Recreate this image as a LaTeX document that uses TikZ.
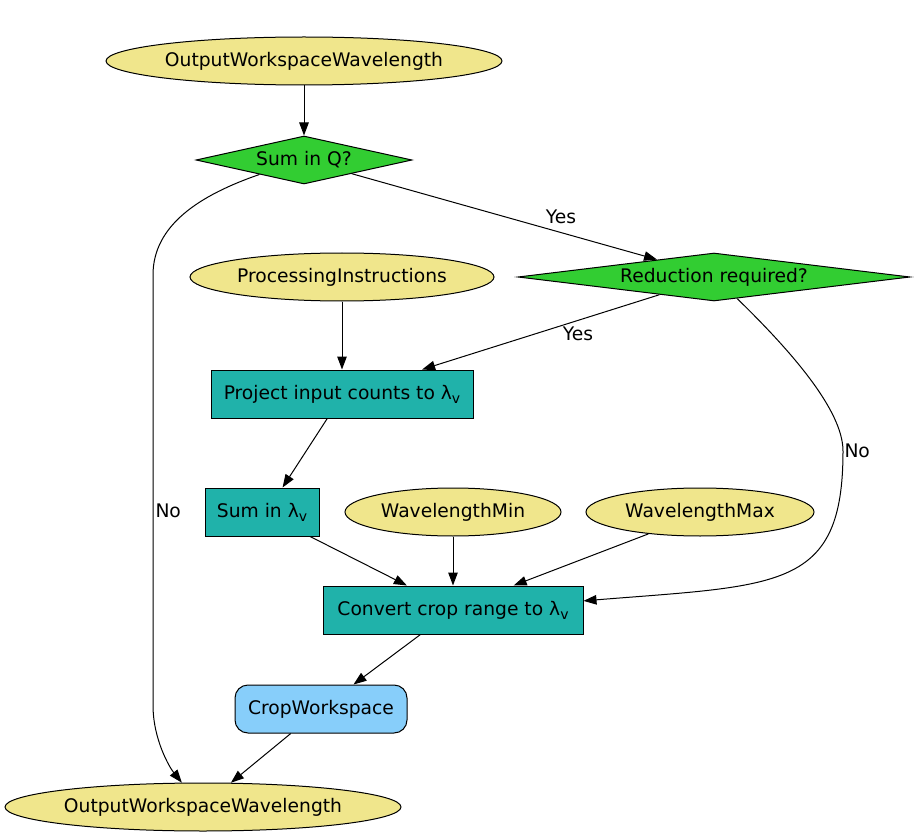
\documentclass[tikz,border=0pt]{standalone}
\usepackage{fontspec}
\setmainfont{DejaVu Sans}
\usetikzlibrary{shapes.geometric,arrows.meta}
\definecolor{khakic}{HTML}{F0E68C}
\definecolor{limegreenc}{HTML}{32CD32}
\definecolor{seagreenc}{HTML}{20B2AA}
\definecolor{skybluec}{HTML}{87CEFA}
\newcommand{\lamv}{λ\raisebox{-4pt}{\fontsize{14}{14}\selectfont v}}
\begin{document}
\begin{tikzpicture}[x=1pt,y=-1pt,
  font=\fontsize{18.7}{22}\selectfont,
  datanode/.style={ellipse,draw,line width=1pt,fill=khakic,inner sep=0pt,minimum height=48pt},
  decision/.style={diamond,draw,line width=1pt,fill=limegreenc,inner sep=0pt,minimum height=48pt},
  procbox/.style={rectangle,draw,line width=1pt,fill=seagreenc,inner sep=0pt,minimum height=48pt},
  algbox/.style={rectangle,rounded corners=13pt,draw,line width=1pt,fill=skybluec,inner sep=0pt,minimum height=48pt},
  arr/.style={line width=1pt,-{Triangle[length=13pt,width=9.5pt]}},
  lbl/.style={inner sep=0pt}]
\useasboundingbox (0,0) rectangle (916,837);
\node[datanode,minimum width=396pt] (out1) at (304,61) {OutputWorkspaceWavelength};
\node[decision,aspect=4.5,minimum width=216pt] (sumQ) at (304,160) {Sum in Q?};
\node[decision,aspect=8,minimum width=392pt] (red) at (714,277) {Reduction required?};
\node[datanode,minimum width=304pt] (proc) at (342,277) {ProcessingInstructions};
\node[procbox,minimum width=262pt] (proj) at (342,394) {Project input counts to \lamv};
\node[procbox,minimum width=114pt] (sumL) at (262,512) {Sum in \lamv};
\node[datanode,minimum width=216pt] (wmin) at (453,512) {WavelengthMin};
\node[datanode,minimum width=228pt] (wmax) at (700,512) {WavelengthMax};
\node[procbox,minimum width=260pt] (conv) at (453,610) {Convert crop range to \lamv};
\node[algbox,minimum width=172pt] (crop) at (321,709) {CropWorkspace};
\node[datanode,minimum width=396pt] (out2) at (203,807) {OutputWorkspaceWavelength};

\draw[arr] (out1.south) -- (sumQ.north);
\draw[arr] (sumQ.-16) -- node[lbl,pos=0.685,yshift=15.6pt] {Yes} (red.163);
\draw[arr] (sumQ.198) .. controls (200,195) and (153,225) .. (153,275)
  -- node[lbl,pos=0.549,anchor=west,xshift=2pt] {No} (153,705)
  .. controls (153,740) and (170,768) .. (out2.131);
\draw[arr] (red.198) -- node[lbl,pos=0.343,yshift=-13.3pt] {Yes} (proj.17.5);
\draw[arr] (red.-43) .. controls (790,350) and (843,410) .. (843,451)
  node[lbl,anchor=west,xshift=1pt] {No}
  .. controls (843,590) and (780,585) .. (conv.4.4);
\draw[arr] (proc.south) -- (proj.north);
\draw[arr] (proj.239) -- (sumL.50);
\draw[arr] (sumL.-27) -- (conv.152.4);
\draw[arr] (wmin.south) -- (conv.north);
\draw[arr] (wmax.203) -- (conv.22);
\draw[arr] (conv.217.7) -- (crop.37);
\draw[arr] (crop.219.6) -- (out2.41);
\end{tikzpicture}
\end{document}
